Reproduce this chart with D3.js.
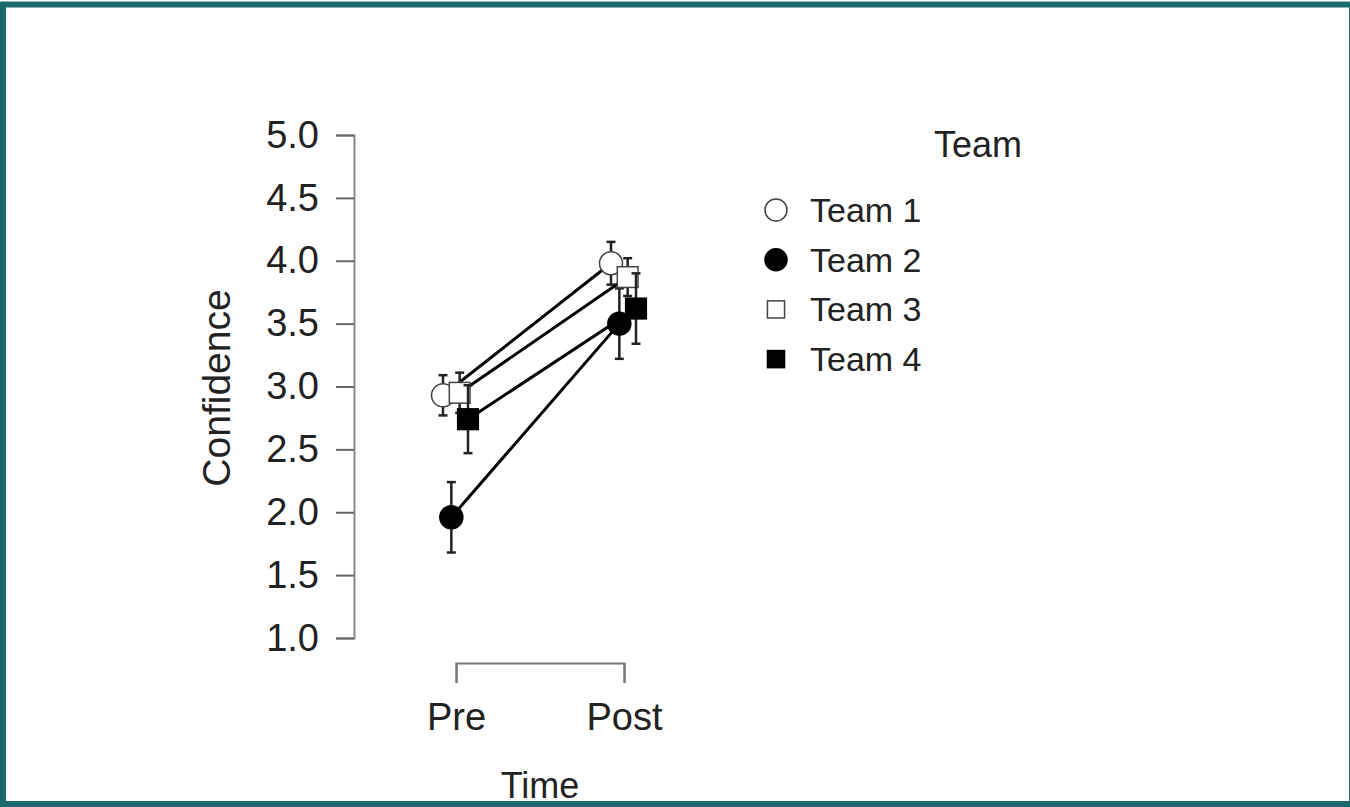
<!DOCTYPE html>
<html>
<head>
<meta charset="utf-8">
<script src="https://cdn.jsdelivr.net/npm/d3@7"></script>
<style>
  body { margin: 0; background: #fff; }
  text { font-family: "Liberation Sans", Arial, sans-serif; fill: #222; }
</style>
</head>
<body>
<svg width="1350" height="807"></svg>
<script>
var width = 1350;
var height = 807;

// data
var times = ["Pre", "Post"];
var teams = ["Team 1", "Team 2", "Team 3", "Team 4"];
var shapes = ["circle", "circle", "square", "square"];
var fills = ["#fff", "#000", "#fff", "#000"];
var preMeans = [2.93, 1.96, 2.95, 2.74];
var postMeans = [3.98, 3.50, 3.87, 3.62];
var preErr = [0.16, 0.28, 0.16, 0.27];
var postErr = [0.17, 0.28, 0.15, 0.28];
var yTicks = [1.0, 1.5, 2.0, 2.5, 3.0, 3.5, 4.0, 4.5, 5.0];

var svg = d3.select("svg");

// frame
svg.append("rect")
  .attr("x", 3).attr("y", 4.5)
  .attr("width", 1349).attr("height", 799.5)
  .attr("fill", "none")
  .attr("stroke", "#1b6a6c")
  .attr("stroke-width", 6);

var yScale = d3.scaleLinear().domain([1, 5]).range([638, 135]);
var xScale = d3.scalePoint().domain(times).range([456, 624]);
var dodge = d3.scalePoint().domain(teams).range([-13, 12]);

// Y AXIS
var yAxis = d3.axisLeft(yScale)
  .tickValues(yTicks)
  .tickFormat(d3.format(".1f"))
  .tickSize(18)
  .tickPadding(17);

var gy = svg.append("g")
  .attr("transform", "translate(354,0)")
  .call(yAxis);
gy.select(".domain").attr("stroke", "#8a8a8a").attr("stroke-width", 2);
gy.selectAll(".tick line").attr("stroke", "#666").attr("stroke-width", 2);
gy.selectAll(".tick text")
  .style("font-size", "38px")
  .style("font-family", "Liberation Sans, Arial, sans-serif")
  .attr("fill", "#222");

// X AXIS - bracket style
var xAxis = d3.axisBottom(xScale).tickSize(20).tickPadding(20);
var gx = svg.append("g")
  .attr("transform", "translate(0,663)")
  .call(xAxis);
gx.select(".domain").attr("stroke", "#777").attr("stroke-width", 2);
gx.selectAll(".tick line").attr("stroke", "#777").attr("stroke-width", 2);
gx.selectAll(".tick text")
  .style("font-size", "38px")
  .style("font-family", "Liberation Sans, Arial, sans-serif")
  .attr("fill", "#222");

// axis titles
svg.append("text")
  .attr("transform", "rotate(-90)")
  .attr("x", -388)
  .attr("y", 230)
  .style("text-anchor", "middle")
  .style("font-size", "39px")
  .text("Confidence");

svg.append("text")
  .attr("x", 540)
  .attr("y", 798)
  .style("text-anchor", "middle")
  .style("font-size", "36px")
  .text("Time");

// one record per team
var rows = teams.map(function (t, i) {
  return {
    team: t, shape: shapes[i], fill: fills[i],
    pts: [
      { time: "Pre", m: preMeans[i], e: preErr[i] },
      { time: "Post", m: postMeans[i], e: postErr[i] }
    ]
  };
});

function px(r, p) { return xScale(p.time) + dodge(r.team); }

function marker(sel, shape, fill, size) {
  if (shape === "circle") {
    sel.append("circle")
      .attr("r", size / 2)
      .attr("fill", fill)
      .attr("stroke", fill === "#000" ? "#000" : "#444")
      .attr("stroke-width", 1.5);
  } else {
    sel.append("rect")
      .attr("x", -size * 0.45).attr("y", -size * 0.45)
      .attr("width", size * 0.9).attr("height", size * 0.9)
      .attr("fill", fill)
      .attr("stroke", fill === "#000" ? "#000" : "#444")
      .attr("stroke-width", 1.5);
  }
}

var line = d3.line()
  .x(function (p) { return p.x; })
  .y(function (p) { return p.y; });

rows.forEach(function (r) {
  var g = svg.append("g");
  g.append("path")
    .attr("d", line(r.pts.map(function (p) { return { x: px(r, p), y: yScale(p.m) }; })))
    .attr("fill", "none")
    .attr("stroke", "#000")
    .attr("stroke-width", 3);

  r.pts.forEach(function (p) {
    var x = px(r, p);
    var eb = g.append("g").attr("stroke", "#222").attr("stroke-width", 2.5);
    eb.append("line").attr("x1", x).attr("x2", x)
      .attr("y1", yScale(p.m - p.e)).attr("y2", yScale(p.m + p.e));
    eb.append("line").attr("x1", x - 4.5).attr("x2", x + 4.5)
      .attr("y1", yScale(p.m - p.e)).attr("y2", yScale(p.m - p.e));
    eb.append("line").attr("x1", x - 4.5).attr("x2", x + 4.5)
      .attr("y1", yScale(p.m + p.e)).attr("y2", yScale(p.m + p.e));
  });

  r.pts.forEach(function (p) {
    var m = g.append("g").attr("transform", "translate(" + px(r, p) + "," + yScale(p.m) + ")");
    marker(m, r.shape, r.fill, 23);
  });
});

// LEGEND
svg.append("text")
  .attr("x", 934)
  .attr("y", 157)
  .style("font-size", "36px")
  .text("Team");

var leg = svg.selectAll(".leg")
  .data(rows)
  .enter()
  .append("g")
  .attr("class", "leg")
  .attr("transform", function (d, i) { return "translate(776," + (210 + i * 49.7) + ")"; });

leg.each(function (d) {
  marker(d3.select(this), d.shape, d.fill, d.shape === "circle" ? 22 : 19);
});

leg.append("text")
  .attr("x", 34)
  .attr("y", 12)
  .style("font-size", "34px")
  .text(function (d) { return d.team; });
</script>
</body>
</html>
